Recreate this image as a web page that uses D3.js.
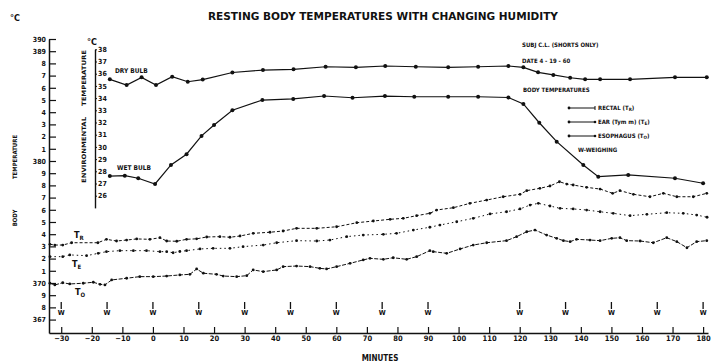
<!DOCTYPE html>
<html><head><meta charset="utf-8">
<script src="https://cdn.jsdelivr.net/npm/d3@7/dist/d3.min.js"></script>
<style>
body{margin:0;background:#fff}
text{font-family:"DejaVu Sans Condensed","Liberation Sans Narrow",sans-serif;font-weight:bold;fill:#111}
</style>
</head><body><svg id="c" width="711" height="363"></svg>
<script>
// ---------- data ----------
const title = "RESTING  BODY  TEMPERATURES  WITH  CHANGING  HUMIDITY";
const minuteTicks = [-30,-20,-10,0,10,20,30,40,50,60,70,80,90,100,110,120,130,140,150,160,170,180];
const bodyTicks = [36.7,36.8,36.9,37.0,37.1,37.2,37.3,37.4,37.5,37.6,37.7,37.8,37.9,38.0,38.1,38.2,38.3,38.4,38.5,38.6,38.7,38.8,38.9,39.0];
const bodyTickLabels = ["367","8","9","370","1","2","3","4","5","6","7","8","9","380","1","2","3","4","5","6","7","8","389","390"];
const envTicks = [26,27,28,29,30,31,32,33,34,35,36,37,38];
const weighingMinutes = [-30,-15,0,15,30,45,60,75,90,120,135,150,165,180];

// environmental temperatures (minute, °C)
const dryBulb = [[-14.1,35.54],[-8.6,35.07],[-3.7,35.70],[1.0,35.07],[6.3,35.75],[11.4,35.34],[16.3,35.52],[26,36.10],[36,36.30],[46,36.36],[56.5,36.57],[66.4,36.52],[76,36.63],[86,36.57],[96.6,36.52],[106.4,36.57],[116.3,36.63],[121.2,36.52],[126,36.11],[131,35.90],[136.5,35.67],[141.4,35.54],[146.3,35.54],[156.1,35.54],[170.8,35.70],[181.2,35.70]];
const wetBulb = [[-14.1,27.61],[-9.2,27.64],[-4.8,27.43],[0.7,26.96],[5.9,28.52],[11,29.40],[15.9,30.90],[20,31.80],[26,33.00],[35.8,33.84],[45.9,33.93],[56,34.17],[65.3,34.03],[75.9,34.17],[85.5,34.11],[96.6,34.11],[106.4,34.11],[116.3,34.05],[121.2,33.52],[126.4,31.98],[132.1,30.43],[140.8,28.52],[145.7,27.56],[155.5,27.70],[170.8,27.43],[180,27.02]];

// body temperatures (minute, °C)
const rectal = [[-33.7,37.317],[-32.1,37.311],[-29.5,37.311],[-26.6,37.330],[-18.0,37.330],[-15.2,37.358],[-11.9,37.344],[-8.6,37.352],[-5.3,37.361],[-1.0,37.358],[2.3,37.371],[4.5,37.344],[7.8,37.342],[11.0,37.358],[14.3,37.362],[17.6,37.377],[21.9,37.380],[25.2,37.375],[28.5,37.385],[32.8,37.407],[38.3,37.416],[42.6,37.426],[47.0,37.448],[53.6,37.448],[60.1,37.461],[66.7,37.494],[72.1,37.508],[77.6,37.522],[81.9,37.530],[86.3,37.552],[90.6,37.571],[92.8,37.598],[98.3,37.617],[103.7,37.653],[109.2,37.680],[114.6,37.707],[120.1,37.727],[122.3,37.757],[126.6,37.776],[129.9,37.795],[133.0,37.830],[135.4,37.811],[137.5,37.803],[141.9,37.784],[146.3,37.770],[150.4,37.735],[152.8,37.757],[157.2,37.727],[162.6,37.707],[167.0,37.735],[171.4,37.707],[176.8,37.707],[181.2,37.735]];
const ear = [[-33.7,37.216],[-29.5,37.216],[-27.2,37.230],[-21.7,37.224],[-17.9,37.243],[-15.2,37.257],[-10.8,37.265],[-6.4,37.265],[-2.1,37.265],[2.3,37.257],[4.5,37.257],[6.6,37.248],[8.8,37.258],[11.0,37.265],[15.4,37.279],[19.7,37.284],[25.2,37.284],[29.5,37.298],[36.1,37.311],[40.5,37.330],[47.0,37.347],[53.6,37.344],[57.9,37.352],[63.4,37.380],[68.8,37.393],[75.4,37.399],[79.7,37.407],[85.2,37.434],[90.6,37.457],[93.9,37.475],[99.4,37.502],[104.8,37.530],[110.3,37.566],[115.7,37.584],[120.1,37.607],[123.4,37.639],[126.1,37.653],[129.9,37.631],[133.2,37.612],[137.5,37.607],[141.9,37.598],[146.3,37.584],[150.6,37.571],[156.1,37.552],[161.6,37.563],[168.1,37.576],[173.5,37.571],[177.9,37.557],[181.3,37.539]];
const esophagus = [[-33.7,36.998],[-32.1,36.984],[-29.5,37.002],[-27.2,36.992],[-22.8,36.998],[-19.5,37.006],[-17.3,36.989],[-15.7,36.984],[-13.5,37.025],[-8.6,37.039],[-4.3,37.052],[0.1,37.052],[4.5,37.057],[8.8,37.066],[12.1,37.071],[14.3,37.115],[16.5,37.080],[20.8,37.071],[23.0,37.057],[27.4,37.052],[30.7,37.060],[32.8,37.107],[36.1,37.093],[40.5,37.107],[42.6,37.134],[47.0,37.139],[51.4,37.134],[54.6,37.120],[56.8,37.115],[60.1,37.134],[64.5,37.161],[68.8,37.189],[71.0,37.202],[75.4,37.194],[78.6,37.207],[83.0,37.194],[86.3,37.216],[90.6,37.265],[91.7,37.257],[96.1,37.243],[100.5,37.279],[104.8,37.311],[109.2,37.330],[115.7,37.347],[119.0,37.380],[122.3,37.420],[125.0,37.434],[128.8,37.393],[132.1,37.366],[134.3,37.347],[136.5,37.339],[138.6,37.358],[143.0,37.352],[146.3,37.347],[150.1,37.366],[152.8,37.371],[155.0,37.347],[159.4,37.344],[163.7,37.330],[168.1,37.371],[171.4,37.339],[174.7,37.289],[177.9,37.339],[181.2,37.347]];

// ---------- drawing ----------
const svg = d3.select("#c");
const ink = "#111";
const x = d3.scaleLinear().domain([-34, 181.6]).range([49, 708]);
const y = d3.scaleLinear().domain([36.59, 39.0]).range([333, 39]);
const yEnv = d3.scaleLinear().domain([25, 38]).range([207.9, 49.3]);

// title
svg.append("text").attr("x", 208).attr("y", 20).attr("font-size", 10)
  .attr("textLength", 350).attr("lengthAdjust", "spacingAndGlyphs").text(title);

// x axis
const gx = svg.append("g").attr("transform", `translate(0,333)`)
  .call(d3.axisBottom(x).tickValues(minuteTicks).tickSizeInner(-6).tickSizeOuter(0).tickPadding(3)
    .tickFormat(d => d === 0 ? "0" : String(d).replace("-", "\u2212")));
gx.select(".domain").attr("stroke", ink).attr("stroke-width", 1.3);
gx.selectAll(".tick line").attr("stroke", ink).attr("stroke-width", 1.2);
gx.selectAll("text").attr("font-size", 7.5).attr("font-family", '"DejaVu Sans Condensed",sans-serif').attr("font-weight","bold").attr("fill", ink);
svg.append("text").attr("x", 380).attr("y", 361).attr("text-anchor", "middle").attr("font-size", 8).text("MINUTES");

// left body axis
const gy = svg.append("g").attr("transform", `translate(49,0)`)
  .call(d3.axisLeft(y).tickValues(bodyTicks).tickSizeInner(-7).tickSizeOuter(0).tickPadding(3)
    .tickFormat((d, i) => bodyTickLabels[i]));
gy.select(".domain").attr("stroke", ink).attr("stroke-width", 1.5);
gy.selectAll(".tick line").attr("stroke", ink).attr("stroke-width", 1.2);
gy.selectAll("text").attr("font-size", 7).attr("font-family", '"DejaVu Sans Condensed",sans-serif').attr("font-weight","bold").attr("fill", ink);
svg.append("text").attr("x", 10).attr("y", 21).attr("font-size", 9).text("°C");
svg.append("text").attr("transform", "translate(17,157) rotate(-90)").attr("text-anchor", "middle").attr("font-size", 6).text("TEMPERATURE");
svg.append("text").attr("transform", "translate(17,218) rotate(-90)").attr("text-anchor", "middle").attr("font-size", 6).text("BODY");

// environmental axis
const ge = svg.append("g").attr("transform", `translate(95,0)`)
  .call(d3.axisRight(yEnv).tickValues(envTicks).tickSizeInner(2).tickSizeOuter(0).tickPadding(1).tickFormat(d3.format("d")));
ge.select(".domain").attr("stroke", ink).attr("stroke-width", 1.4);
ge.selectAll(".tick line").attr("stroke", ink);
ge.selectAll("text").attr("font-size", 7).attr("font-family", '"DejaVu Sans Condensed",sans-serif').attr("font-weight","bold").attr("fill", ink);
svg.append("text").attr("x", 87).attr("y", 45).attr("font-size", 9).text("°C");
svg.append("text").attr("transform", "translate(86,78) rotate(-90)").attr("text-anchor", "middle").attr("font-size", 6)
  .attr("textLength", 56).attr("lengthAdjust", "spacingAndGlyphs").text("TEMPERATURE");
svg.append("text").attr("transform", "translate(86,150) rotate(-90)").attr("text-anchor", "middle").attr("font-size", 6)
  .attr("textLength", 66).attr("lengthAdjust", "spacingAndGlyphs").text("ENVIRONMENTAL");

// environmental lines
function envLine(data) {
  svg.append("path").datum(data).attr("fill", "none").attr("stroke", ink).attr("stroke-width", 1.2)
    .attr("d", d3.line().x(d => x(d[0])).y(d => yEnv(d[1])));
  svg.append("g").selectAll("circle").data(data).join("circle")
    .attr("cx", d => x(d[0])).attr("cy", d => yEnv(d[1])).attr("r", 2).attr("fill", ink);
}
envLine(dryBulb);
envLine(wetBulb);
svg.append("text").attr("x", 115).attr("y", 73).attr("font-size", 6.5).text("DRY BULB");
svg.append("text").attr("x", 117).attr("y", 170).attr("font-size", 6.5).text("WET BULB");

// body temperature lines
function bodyLine(data, dash) {
  svg.append("path").datum(data).attr("fill", "none").attr("stroke", ink).attr("stroke-width", 1)
    .attr("stroke-dasharray", dash)
    .attr("d", d3.line().x(d => x(d[0])).y(d => y(d[1])));
  svg.append("g").selectAll("circle").data(data).join("circle")
    .attr("cx", d => x(d[0])).attr("cy", d => y(d[1])).attr("r", 1.4).attr("fill", ink);
}
bodyLine(rectal, "3,2");
bodyLine(ear, "1.5,3");
bodyLine(esophagus, "4,1.5");

function subLabel(xp, yp, main, sub) {
  const t = svg.append("text").attr("x", xp).attr("y", yp).attr("font-size", 9).text(main);
  t.append("tspan").attr("font-size", 6).attr("dy", 2).text(sub);
}
subLabel(74, 238, "T", "R");
subLabel(72, 267, "T", "E");
subLabel(75, 295, "T", "O");

// weighing arrows
const wg = svg.append("g").selectAll("g").data(weighingMinutes).join("g")
  .attr("transform", d => `translate(${x(d)},0)`);
wg.append("line").attr("x1", 0).attr("x2", 0).attr("y1", 302).attr("y2", 309).attr("stroke", ink).attr("stroke-width", 1.3);
wg.append("text").attr("x", 0).attr("y", 315).attr("text-anchor", "middle").attr("font-size", 7).text("W");

// annotations / legend
svg.append("text").attr("x", 522).attr("y", 47).attr("font-size", 6).text("SUBJ  C.L.  (SHORTS  ONLY)");
svg.append("text").attr("x", 522).attr("y", 63).attr("font-size", 6).text("DATE  4 - 19 - 60");
svg.append("text").attr("x", 523).attr("y", 92).attr("font-size", 6).text("BODY  TEMPERATURES");
const legendItems = [["RECTAL  (T", "R", ")"], ["EAR  (Tym m)  (T", "E", ")"], ["ESOPHAGUS  (T", "O", ")"]];
const legendY = [108, 122, 136];
legendItems.forEach((it, i) => {
  const ly = legendY[i];
  svg.append("line").attr("x1", 569).attr("x2", 595).attr("y1", ly).attr("y2", ly).attr("stroke", ink).attr("stroke-width", 1);
  svg.append("circle").attr("cx", 569).attr("cy", ly).attr("r", 1.4).attr("fill", ink);
  if (i === 0) svg.append("line").attr("x1", 595).attr("x2", 595).attr("y1", ly - 2).attr("y2", ly + 2).attr("stroke", ink);
  else svg.append("circle").attr("cx", 595).attr("cy", ly).attr("r", 1.3).attr("fill", ink);
  const t = svg.append("text").attr("x", 598).attr("y", ly + 2).attr("font-size", 6).text(it[0]);
  t.append("tspan").attr("font-size", 4.5).attr("dy", 1).text(it[1]);
  t.append("tspan").attr("dy", -1).text(it[2]);
});
svg.append("text").attr("x", 578).attr("y", 152).attr("font-size", 6).text("W-WEIGHING");
</script>
</body></html>
